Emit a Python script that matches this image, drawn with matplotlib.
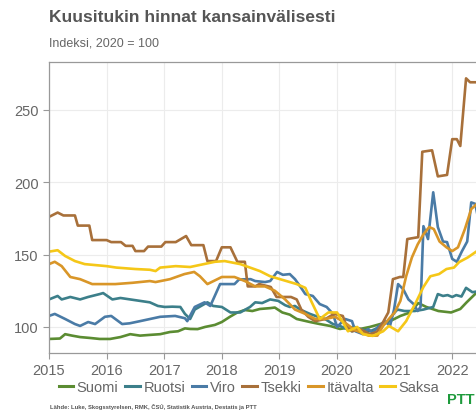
import numpy as np
import matplotlib
matplotlib.use("Agg")
import matplotlib.pyplot as plt

plt.rcParams['font.family'] = ['Liberation Sans', 'DejaVu Sans']

# values (decimal year, index 2020 = 100)
suomi_t = [2015.00, 2015.19, 2015.28, 2015.40, 2015.54, 2015.71, 2015.88, 2016.06, 2016.24, 2016.41,
           2016.58, 2016.75, 2016.93, 2017.10, 2017.24, 2017.36, 2017.45, 2017.58, 2017.71, 2017.88,
           2018.00, 2018.14, 2018.27, 2018.40, 2018.53, 2018.66, 2018.84, 2018.92, 2019.05, 2019.18,
           2019.30, 2019.53, 2019.70, 2019.88, 2020.05, 2020.20, 2020.30, 2020.40, 2020.57, 2020.75,
           2020.92, 2021.10, 2021.27, 2021.41, 2021.55, 2021.76, 2021.98, 2022.14, 2022.25, 2022.43]
suomi_v = [91.7, 92.0, 95.0, 94.0, 93.0, 92.4, 91.7, 91.7, 93.0, 95.0,
           94.0, 94.5, 95.0, 96.5, 97.0, 99.0, 98.6, 98.5, 100.0, 101.4,
           103.4, 107.0, 110.0, 111.7, 111.0, 112.4, 113.0, 113.4, 110.0, 108.5,
           105.5, 103.4, 102.0, 100.7, 98.6, 99.5, 100.0, 98.6, 100.0, 102.0,
           104.0, 107.6, 110.0, 116.5, 113.8, 111.0, 110.0, 112.4, 117.0, 124.0]

ruotsi_t = [2015.00, 2015.15, 2015.22, 2015.37, 2015.54, 2015.68, 2015.88, 2015.94, 2016.10, 2016.24,
            2016.41, 2016.58, 2016.75, 2016.89, 2017.01, 2017.14, 2017.28, 2017.36, 2017.45, 2017.53,
            2017.75, 2017.85, 2018.00, 2018.15, 2018.32, 2018.49, 2018.58, 2018.70, 2018.84, 2018.98,
            2019.10, 2019.18, 2019.27, 2019.36, 2019.53, 2019.67, 2019.79, 2019.93, 2020.05, 2020.26,
            2020.40, 2020.57, 2020.75, 2020.89, 2021.00, 2021.05, 2021.17, 2021.35, 2021.50, 2021.67,
            2021.75, 2021.84, 2021.92, 2022.00, 2022.07, 2022.16, 2022.24, 2022.35, 2022.43]
ruotsi_v = [119.0, 121.4, 119.0, 120.7, 119.0, 120.7, 122.7, 123.4, 119.0, 120.0,
            119.0, 118.0, 117.0, 114.5, 113.8, 114.0, 113.8, 109.0, 105.5, 112.0,
            117.0, 114.5, 113.8, 110.0, 110.0, 113.8, 117.0, 116.5, 119.0, 118.0,
            115.0, 113.8, 114.5, 112.0, 109.0, 107.0, 105.5, 102.0, 100.7, 97.0,
            98.6, 97.0, 100.0, 104.0, 110.0, 112.0, 111.0, 111.0, 112.0, 113.8,
            122.7, 121.4, 122.0, 120.7, 122.0, 121.0, 127.0, 124.0, 124.5]

viro_t = [2015.00, 2015.10, 2015.28, 2015.45, 2015.54, 2015.68, 2015.80, 2015.97, 2016.08, 2016.27,
          2016.40, 2016.58, 2016.93, 2017.19, 2017.36, 2017.40, 2017.53, 2017.70, 2017.80, 2017.97,
          2018.22, 2018.30, 2018.50, 2018.58, 2018.75, 2018.84, 2018.96, 2019.06, 2019.18, 2019.27,
          2019.36, 2019.45, 2019.58, 2019.70, 2019.82, 2019.93, 2020.00, 2020.14, 2020.26, 2020.32,
          2020.45, 2020.54, 2020.62, 2020.71, 2020.83, 2020.92, 2020.99, 2021.06, 2021.15, 2021.24,
          2021.33, 2021.40, 2021.45, 2021.50, 2021.58, 2021.67, 2021.75, 2021.84, 2021.91, 2022.00,
          2022.08, 2022.17, 2022.26, 2022.33, 2022.40, 2022.43]
viro_v = [107.6, 109.0, 105.5, 102.0, 100.7, 103.4, 102.0, 107.0, 107.6, 102.0,
          102.5, 104.0, 107.0, 107.6, 106.0, 104.0, 113.8, 117.0, 114.5, 129.6,
          129.6, 132.8, 133.0, 131.7, 131.0, 131.7, 138.0, 136.0, 136.5, 133.0,
          128.0, 122.7, 121.4, 115.8, 113.8, 109.0, 100.0, 105.5, 104.0, 97.0,
          95.0, 98.6, 96.0, 100.0, 104.0, 100.7, 112.0, 129.6, 126.0, 119.0,
          115.8, 111.0, 113.8, 169.6, 160.7, 193.0, 169.0, 159.0, 158.6, 147.0,
          145.0, 152.4, 159.0, 186.0, 185.0, 179.0]

tsekki_t = [2015.00, 2015.15, 2015.25, 2015.45, 2015.50, 2015.70, 2015.75, 2016.00, 2016.08, 2016.25,
            2016.33, 2016.45, 2016.50, 2016.65, 2016.72, 2016.95, 2017.02, 2017.20, 2017.38, 2017.47,
            2017.68, 2017.75, 2017.90, 2018.00, 2018.15, 2018.27, 2018.40, 2018.45, 2018.58, 2018.65,
            2018.85, 2018.95, 2019.20, 2019.30, 2019.38, 2019.50, 2019.62, 2019.80, 2019.95, 2020.10,
            2020.17, 2020.26, 2020.40, 2020.57, 2020.69, 2020.80, 2020.89, 2020.97, 2021.09, 2021.15,
            2021.22, 2021.41, 2021.48, 2021.65, 2021.75, 2021.91, 2022.00, 2022.08, 2022.14, 2022.24,
            2022.31, 2022.43]
tsekki_v = [176.0, 179.0, 177.0, 177.0, 170.0, 170.0, 160.0, 160.0, 158.6, 158.6,
            156.0, 156.0, 152.4, 152.4, 155.5, 155.5, 158.6, 158.6, 162.8, 156.5,
            156.5, 145.5, 145.5, 155.0, 155.0, 145.0, 145.0, 128.0, 128.0, 129.6,
            127.6, 120.7, 120.7, 119.0, 112.0, 107.0, 104.0, 105.5, 109.0, 107.6,
            100.0, 97.0, 98.6, 95.0, 96.5, 103.4, 110.0, 133.0, 134.5, 134.5,
            160.7, 162.0, 221.0, 222.0, 204.0, 205.0, 229.7, 229.7, 225.0, 271.7,
            269.0, 269.0]

itavalta_t = [2015.00, 2015.10, 2015.22, 2015.37, 2015.54, 2015.75, 2016.15, 2016.45, 2016.75, 2016.85,
              2017.10, 2017.35, 2017.52, 2017.62, 2017.75, 2018.00, 2018.22, 2018.40, 2018.58, 2018.75,
              2018.92, 2019.10, 2019.27, 2019.45, 2019.62, 2019.80, 2019.97, 2020.17, 2020.30, 2020.55,
              2020.70, 2020.80, 2020.90, 2021.00, 2021.10, 2021.20, 2021.30, 2021.40, 2021.50, 2021.60,
              2021.68, 2021.78, 2021.90, 2022.00, 2022.10, 2022.22, 2022.33, 2022.43]
itavalta_v = [143.4, 145.0, 142.0, 134.5, 133.0, 129.6, 129.6, 130.5, 131.7, 131.0,
              133.0, 136.5, 138.0, 135.0, 129.6, 134.5, 134.5, 131.7, 128.0, 128.0,
              125.0, 119.0, 112.0, 109.0, 105.5, 105.5, 107.0, 102.0, 98.0, 94.0,
              94.0, 100.7, 105.5, 110.0, 118.0, 135.0, 148.0, 157.0, 164.0, 169.0,
              167.6, 159.0, 155.0, 152.4, 155.0, 167.6, 181.4, 185.0]

saksa_t = [2015.00, 2015.15, 2015.28, 2015.45, 2015.62, 2016.00, 2016.17, 2016.50, 2016.75, 2016.85,
           2016.93, 2017.20, 2017.45, 2017.88, 2018.05, 2018.32, 2018.49, 2018.66, 2018.84, 2019.01,
           2019.18, 2019.30, 2019.45, 2019.55, 2019.70, 2019.85, 2020.00, 2020.10, 2020.19, 2020.35,
           2020.45, 2020.62, 2020.80, 2020.90, 2021.06, 2021.20, 2021.37, 2021.50, 2021.62, 2021.77,
           2021.90, 2022.03, 2022.12, 2022.27, 2022.43]
saksa_v = [152.0, 153.0, 149.0, 145.5, 143.4, 142.0, 141.0, 140.0, 139.5, 138.6,
           141.0, 142.0, 141.4, 145.0, 145.5, 143.4, 141.0, 138.6, 135.0, 133.0,
           131.0, 129.6, 127.0, 118.0, 105.5, 110.0, 110.0, 103.4, 97.0, 100.0,
           95.0, 93.8, 97.0, 100.7, 97.0, 104.0, 117.0, 127.6, 135.0, 136.5,
           140.0, 141.0, 144.8, 148.0, 152.4]

names = ['Suomi', 'Ruotsi', 'Viro', 'Tsekki', 'Itävalta', 'Saksa']
colors = ['#5b8c32', '#3c7f8a', '#4a7ba6', '#a8703a', '#d99628', '#f5c718']
series = [(suomi_t, suomi_v), (ruotsi_t, ruotsi_v), (viro_t, viro_v),
          (tsekki_t, tsekki_v), (itavalta_t, itavalta_v), (saksa_t, saksa_v)]

years = list(range(2015, 2023))
yticks = [100, 150, 200, 250]

fig = plt.figure(figsize=(4.77, 4.14), dpi=100)
ax = fig.add_axes([49 / 477, 60 / 414, 428 / 477, 291 / 414])

# draw order: later series on top
for (t, v), name, c in zip(series, names, colors):
    ax.plot(t, v, color=c, lw=1.9, label=name, solid_joinstyle='round')

ax.set_xlim(2015, 2022.43)
ax.set_ylim(82, 283)
ax.set_xticks(years)
ax.set_yticks(yticks)
ax.grid(True, color='#ececec', lw=0.8)
ax.set_axisbelow(True)
for s in ['left', 'bottom', 'top']:
    ax.spines[s].set_color('#999999')
    ax.spines[s].set_linewidth(0.9)
ax.spines['right'].set_visible(False)
ax.tick_params(colors='#999999', labelcolor='#666666', labelsize=10.5, length=4, width=0.8)

fig.text(49 / 477, 1 - 17 / 414, 'Kuusitukin hinnat kansainvälisesti', fontsize=12.5,
         fontweight='bold', color='#555555', va='center')
fig.text(49 / 477, 1 - 43 / 414, 'Indeksi, 2020 = 100', fontsize=9, color='#666666', va='center')

leg = fig.legend(loc='center', bbox_to_anchor=(249 / 477, 1 - 388 / 414), ncol=6, frameon=False,
                 fontsize=10.5, handlelength=1.0, handletextpad=0.25, columnspacing=0.45,
                 borderaxespad=0)
for txt in leg.get_texts():
    txt.set_color('#666666')
for line in leg.get_lines():
    line.set_linewidth(2.2)

fig.text(50 / 477, 1 - 407 / 414,
         'Lähde: Luke, Skogsstyrelsen, RMK, ČSÚ, Statistik Austria, Destatis ja PTT',
         fontsize=4.2, fontweight='bold', color='#555555', va='center')
fig.text(447 / 477, 1 - 400 / 414, 'PTT', fontsize=10.5, fontweight='bold', color='#1e9a3c',
         va='center')

fig.savefig('out.png', dpi=100)
